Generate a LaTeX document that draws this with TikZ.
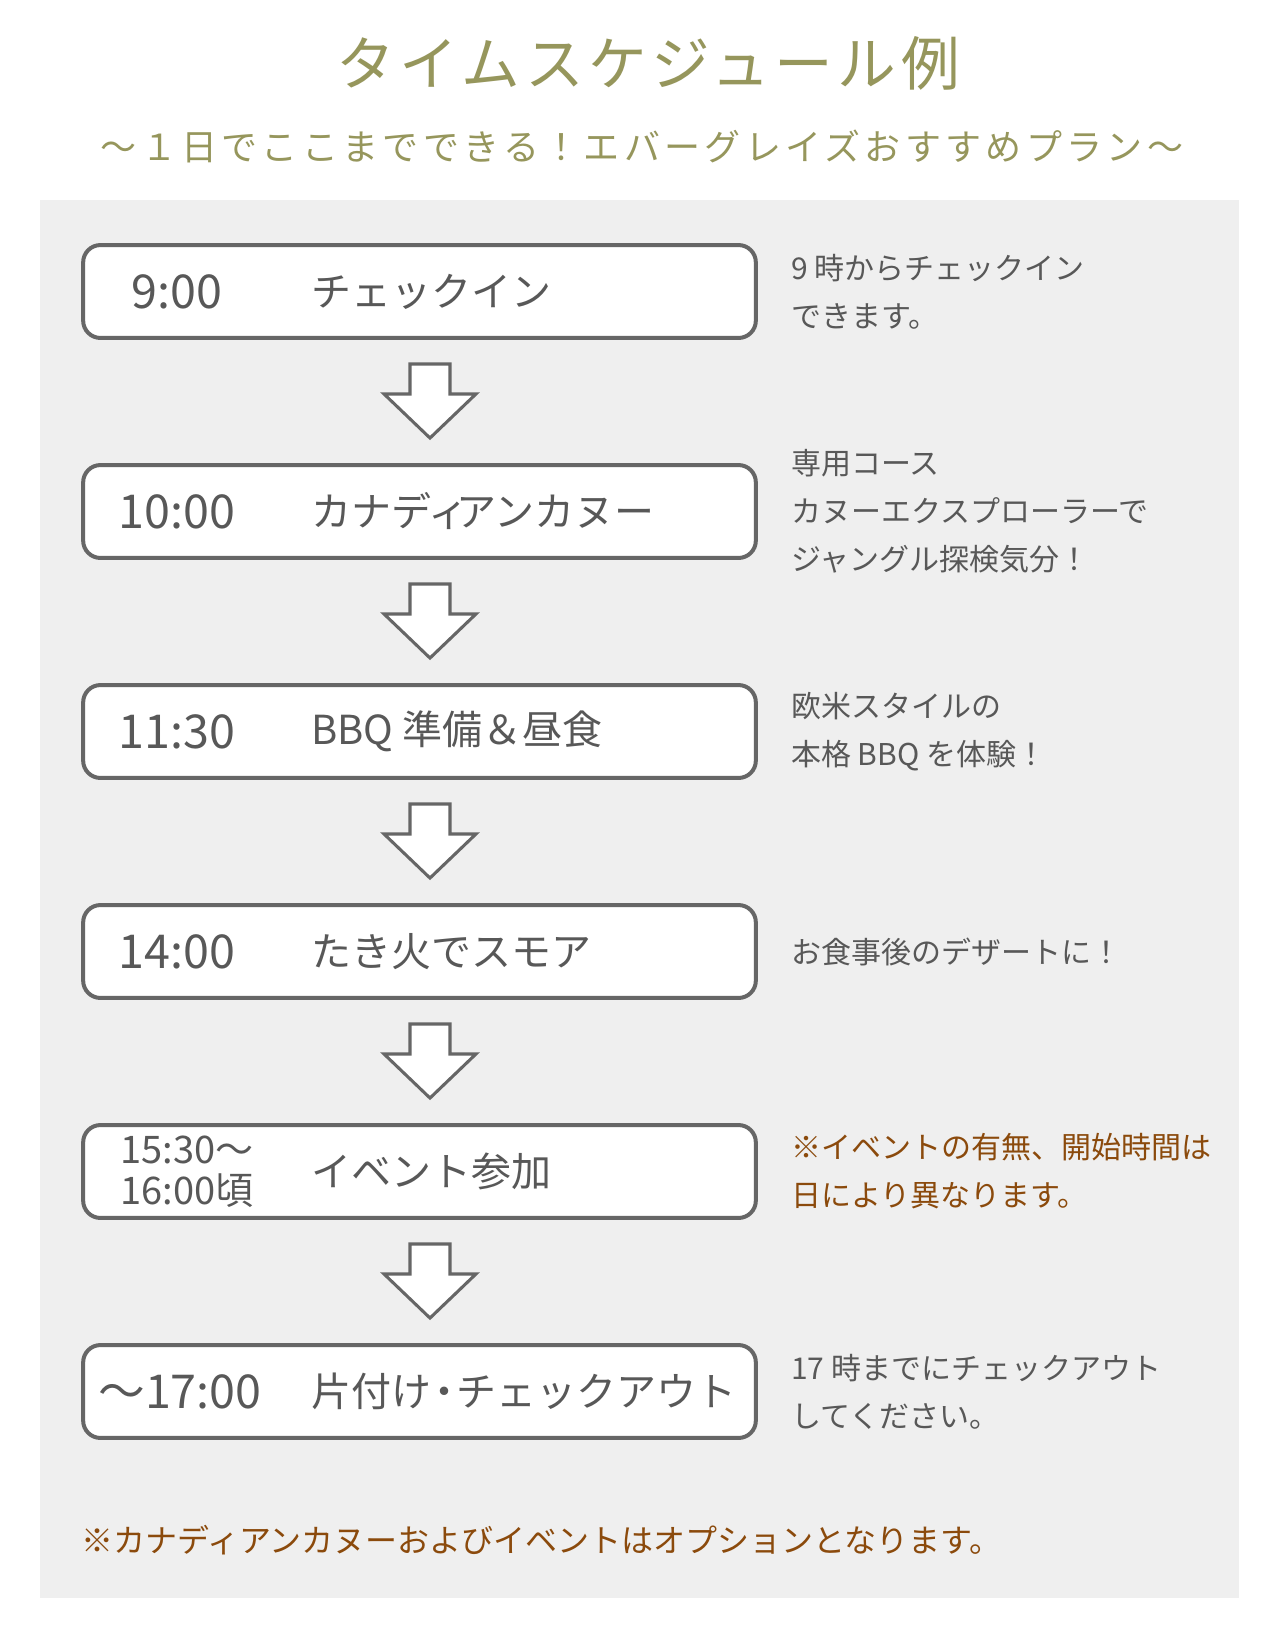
\documentclass[tikz,border=0pt]{standalone}
\usepackage{fontspec}
\setmainfont{Noto Sans CJK JP}
\usetikzlibrary{calc}

\definecolor{bggray}{RGB}{239,239,239}
\definecolor{boxgray}{RGB}{102,102,102}
\definecolor{textgray}{RGB}{88,88,88}
\definecolor{notebrown}{RGB}{139,74,12}
\definecolor{titleolive}{RGB}{150,150,92}

\tikzset{
	timebox/.style={draw=boxgray, line width=3pt, fill=white, rounded corners=13pt, minimum width=504.5pt, minimum height=69.7pt, inner sep=0pt},
	timelabel/.style={inner sep=0pt, text=textgray, font=\fontsize{35}{40}\selectfont},
	actlabel/.style={anchor=west, inner sep=0pt, text=textgray, font=\fontsize{30}{36}\selectfont},
	desclabel/.style={anchor=west, align=left, inner sep=0pt, text=textgray, font=\fontsize{22.5}{36}\selectfont},
	blockarrow/.style={draw=boxgray, line width=2.3pt, fill=white, line join=miter},
}

\begin{document}
\begin{tikzpicture}[x=0.75pt, y=-0.75pt]

	% page and grey panel
	\fill[white] (0,0) rectangle (1280,1636);
	\useasboundingbox (0,0) rectangle (1280,1636);
	\fill[bggray] (40,200) rectangle (1239,1598);

	% headings
	\node[text=titleolive, font=\fontsize{44}{48}\selectfont\addfontfeature{LetterSpace=8}] (title) at (648,63) {タイムスケジュール例};
	\node[text=titleolive, font=\fontsize{27}{30}\selectfont\addfontfeature{LetterSpace=12}] (subtitle) at (642,146) {～１日でここまでできる！エバーグレイズおすすめプラン～};

	% schedule boxes
	\node[timebox] (b1) at (419.5,291.5) {};
	\node[timebox] (b2) at (419.5,511.5) {};
	\node[timebox] (b3) at (419.5,731.5) {};
	\node[timebox] (b4) at (419.5,951.5) {};
	\node[timebox] (b5) at (419.5,1171.5) {};
	\node[timebox] (b6) at (419.5,1391.5) {};

	\node[timelabel] (t1) at (177,291.5) {9:00};
	\node[timelabel] (t2) at (177,511.5) {10:00};
	\node[timelabel] (t3) at (177,731.5) {11:30};
	\node[timelabel] (t4) at (177,951.5) {14:00};
	\node[timelabel, align=center, font=\fontsize{28.5}{31}\selectfont] (t5) at (187,1171.5) {15:30～\\16:00頃};
	\node[timelabel] (t6) at (180,1391.5) {～17:00};

	\node[actlabel] (a1) at (311,291.5) {チェックイン};
	\node[actlabel] (a2) at (311,511.5) {カナディ\kern-.3emアンカヌー};
	\node[actlabel] (a3) at (311,731.5) {BBQ 準備＆昼食};
	\node[actlabel] (a4) at (311,951.5) {たき火でスモア};
	\node[actlabel] (a5) at (311,1171.5) {イベント参加};
	\node[actlabel] (a6) at (311,1391.5) {片付け\kern-.18em・\kern-.18emチェックアウト};

	% notes on the right
	\node[desclabel] (d1) at (791,291.5) {9 時からチェックイン\\できます。};
	\node[desclabel] (d2) at (791,511.5) {専用コース\\カヌーエクスプローラーで\\ジャングル探検気分！};
	\node[desclabel] (d3) at (791,731.5) {欧米スタイルの\\本格 BBQ を体験！};
	\node[desclabel] (d4) at (791,951.5) {お食事後のデザートに！};
	\node[desclabel, text=notebrown] (d5) at (791,1171.5) {※イベントの有無、開始時間は\\日により異なります。};
	\node[desclabel] (d6) at (791,1391.5) {17 時までにチェックアウト\\してください。};

	% block arrows between boxes
	\foreach \a/\b in {b1/b2, b2/b3, b3/b4, b4/b5, b5/b6}
		\draw[blockarrow] ($(\a.south)+(-9.5,24)$) -- ++(40,0) -- ++(0,30) -- ++(26,0)
			-- ($(\b.north)+(10.5,-25)$) -- ($(\a.south)+(-35.5,54)$) -- ++(26,0) -- cycle;

	% footnote
	\node[anchor=west, inner sep=0pt, text=notebrown, font=\fontsize{24}{28}\selectfont] (foot) at (81,1540) {※カナディアンカヌーおよびイベントはオプションとなります。};

\end{tikzpicture}
\end{document}
